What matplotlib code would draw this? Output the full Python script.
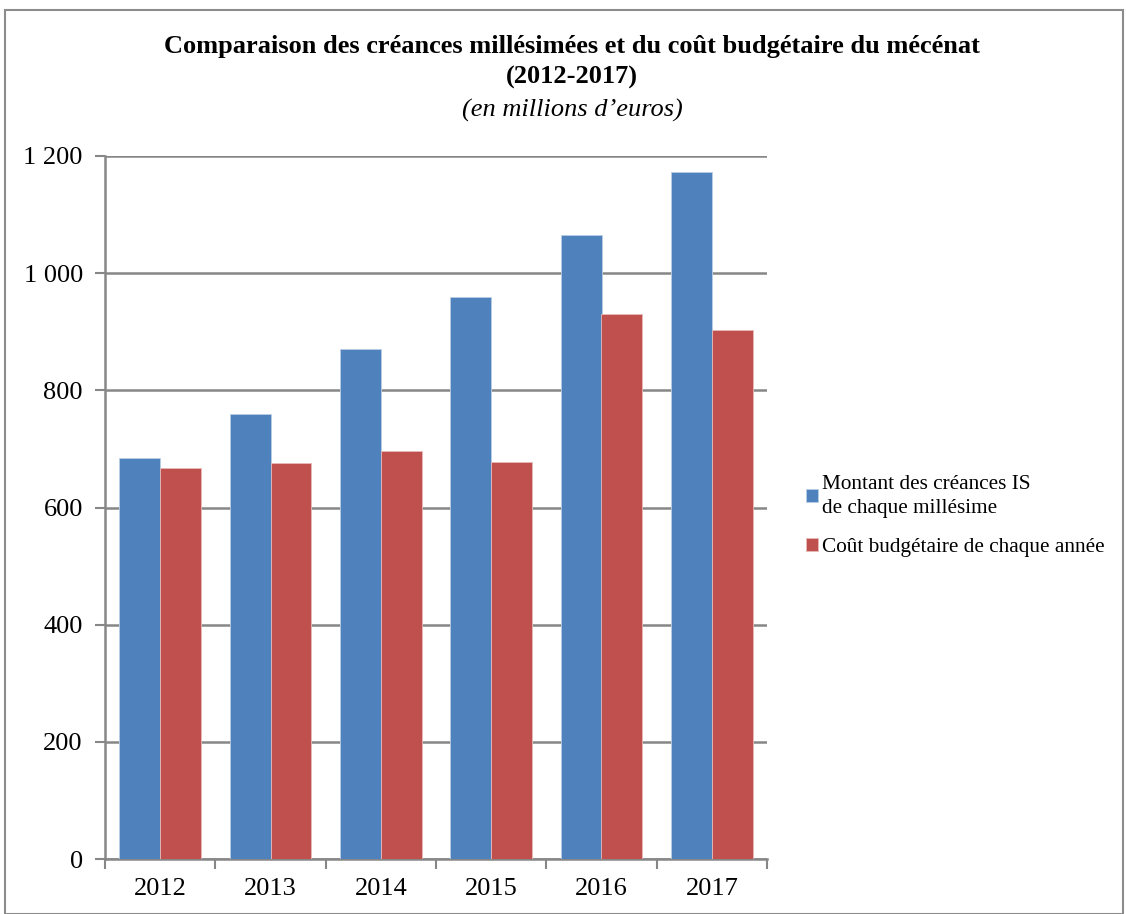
import numpy as np
import matplotlib
matplotlib.use('Agg')
import matplotlib.pyplot as plt
from matplotlib.patches import Rectangle
from matplotlib.ticker import FuncFormatter

plt.rcParams['font.family'] = ['Liberation Serif', 'DejaVu Serif']

years = ['2012', '2013', '2014', '2015', '2016', '2017']
creances = [685, 759, 870, 959, 1066, 1172]
cout = [667, 676, 696, 677, 930, 903]

blue = '#4F81BD'
red = '#C0504D'
grid_col = '#878787'

fig = plt.figure(figsize=(11.26, 9.14), dpi=100)
ax = fig.add_axes([105 / 1126, 1 - 859 / 914, (767 - 105) / 1126, (859 - 156) / 914])

x = np.arange(len(years))
w = 0.37
ax.bar(x - w / 2, creances, w, color=blue, edgecolor='#B9CDE5', linewidth=0.6,
       label='Montant des créances IS\nde chaque millésime', zorder=3)
ax.bar(x + w / 2, cout, w, color=red, edgecolor='#E6B9B8', linewidth=0.6,
       label='Coût budgétaire de chaque année', zorder=3)

ax.set_xlim(-0.5, len(years) - 0.5)
ax.set_ylim(0, 1200)
ax.set_yticks(range(0, 1201, 200))
ax.yaxis.set_major_formatter(FuncFormatter(lambda v, p: f'{int(v):,}'.replace(',', ' ')))
ax.set_xticks(x)
ax.set_xticklabels(years)
ax.set_xticks(np.arange(-0.5, len(years), 1), minor=True)
ax.tick_params(axis='x', which='major', length=0, pad=14, labelsize=19)
ax.tick_params(axis='x', which='minor', length=7, width=1.5, color=grid_col)
ax.tick_params(axis='y', length=7, width=1.5, color=grid_col, labelsize=19, pad=9)

ax.grid(axis='y', color=grid_col, linewidth=1.8, zorder=0)
for s in ['top', 'right']:
    ax.spines[s].set_visible(False)
for s in ['left', 'bottom']:
    ax.spines[s].set_color(grid_col)
    ax.spines[s].set_linewidth(1.8)

fig.text(0.508, 1 - 47 / 914, 'Comparaison des créances millésimées et du coût budgétaire du mécénat',
         ha='center', va='center', fontsize=19, fontweight='bold')
fig.text(0.508, 1 - 77 / 914, '(2012-2017)', ha='center', va='center', fontsize=19, fontweight='bold')
fig.text(0.508, 1 - 110 / 914, '(en millions d\u2019euros)', ha='center', va='center',
         fontsize=19, style='italic')

leg = fig.legend(loc='center left', bbox_to_anchor=(787 / 1126, 1 - 516 / 914), frameon=False,
                 fontsize=15.3, handlelength=0.55, handleheight=0.55, handletextpad=0.2,
                 labelspacing=0.95)
for t in leg.get_texts():
    t.set_linespacing(1.35)

fig.add_artist(Rectangle((5 / 1126, 0), 1 - 8 / 1126, 1 - 10 / 914, transform=fig.transFigure,
                         fill=False, edgecolor='#8C8C8C', linewidth=1.5))

fig.savefig('out.png', dpi=100)
